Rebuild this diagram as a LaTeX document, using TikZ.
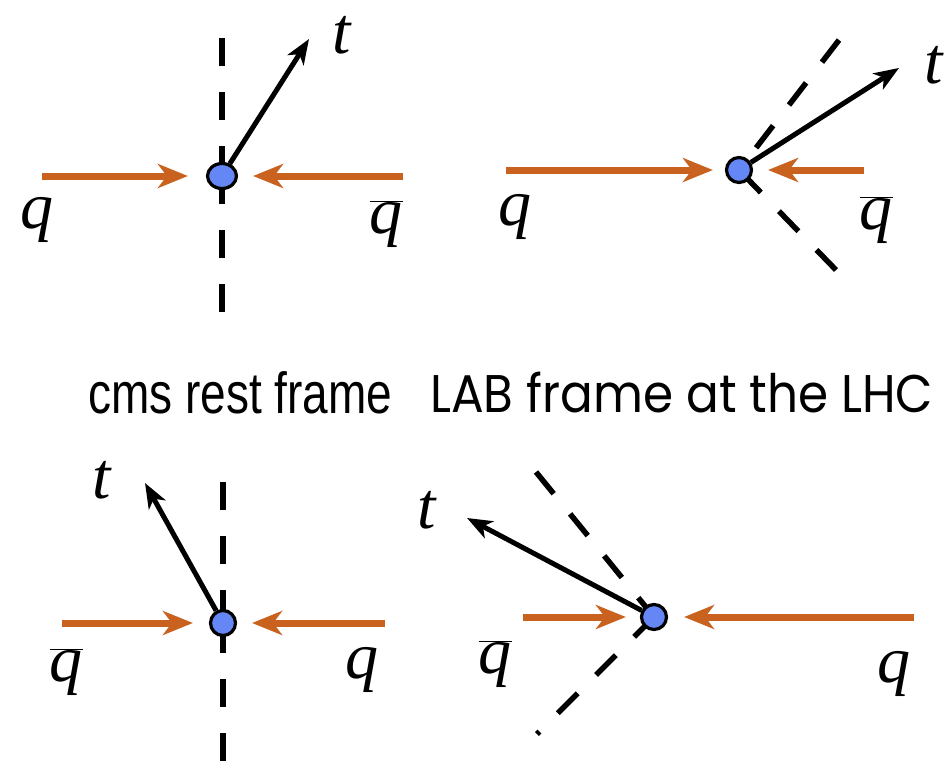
\documentclass[tikz,border=0pt]{standalone}
\usepackage{fontspec}
\usepackage{graphicx}
\usetikzlibrary{arrows.meta,shapes.geometric}
\newfontfamily\lblfont{Liberation Serif}
\newfontfamily\capfont{Liberation Sans}
\newfontfamily\labfont{Poppins}
\definecolor{qorange}{RGB}{200,98,30}
\definecolor{vblue}{RGB}{100,135,245}
\newcommand{\qbr}{$\overline{\hbox{q}}$}
\pgfdeclarelayer{bg}
\pgfsetlayers{bg,main}
\begin{document}
\begin{tikzpicture}[x=1pt,y=-1pt,
  vtx/.style={circle, draw=black, line width=3.2pt, fill=vblue, minimum size=25pt, inner sep=0pt},
  vtxe/.style={ellipse, draw=black, line width=3.2pt, fill=vblue, minimum width=29pt, minimum height=25pt, inner sep=0pt},
  dashax/.style={line width=5.5pt, dash pattern=on 28pt off 26pt},
  beam/.style={draw=qorange, line width=7pt, -{Stealth[length=30pt,width=24pt,inset=9pt]}},
  tarr/.style={draw=black, line width=5pt, -{Stealth[length=25pt,width=19pt,inset=7pt]}},
  lbl/.style={inner sep=0pt, font={\fontsize{66}{70}\lblfont\itshape}}]
\useasboundingbox (0,0) rectangle (952,761);

% vertices
\node[vtxe] (v1) at (222,176) {};
\node[vtx] (v2) at (739,170) {};
\node[vtx] (v3) at (223,623) {};
\node[vtx] (v4) at (654,617) {};

% labels
\node[lbl] (t1) at (342,35) {t};
\node[lbl] (q1) at (37,220) {q};
\node[lbl] (qb1) at (386,224) {\qbr};
\node[lbl] (t2) at (934,65) {t};
\node[lbl] (q2) at (515,217) {q};
\node[lbl] (qb2) at (876,220) {\qbr};
\node[lbl] (t3) at (102,480) {t};
\node[lbl] (qb3) at (66,672) {\qbr};
\node[lbl] (q3) at (362,670) {q};
\node[lbl] (t4) at (427,510) {t};
\node[lbl] (qb4) at (495,664) {\qbr};
\node[lbl] (q4) at (894,674) {q};

\node[anchor=base west, inner sep=0pt] (cms) at (88,413)
  {\resizebox{304pt}{\height}{\fontsize{58}{60}\capfont cms rest frame}};
\node[anchor=base west, inner sep=0pt] (lab) at (430,412)
  {\resizebox{503pt}{\height}{\fontsize{53}{56}\labfont LAB frame at the LHC}};

% free ends
\coordinate (a1) at (42,176);  \coordinate (b1) at (403,176);
\coordinate (tt1) at (309,39); \coordinate (du1) at (222,38);  \coordinate (dd1) at (222,312);
\coordinate (a2) at (506,170); \coordinate (b2) at (864,170);
\coordinate (tt2) at (899,68); \coordinate (du2) at (839,40);  \coordinate (dd2) at (836,270);
\coordinate (a3) at (62,623);  \coordinate (b3) at (385,623);
\coordinate (tt3) at (145,483); \coordinate (du3) at (223,482); \coordinate (dd3) at (223,761);
\coordinate (a4) at (523,617); \coordinate (b4) at (914,617);
\coordinate (tt4) at (467,518); \coordinate (du4) at (536,472); \coordinate (dd4) at (537,734);

\begin{pgfonlayer}{bg}
  \fill[white] (0,0) rectangle (952,761);
  % dashed axes
  \draw[dashax] (du1) -- (v1.center);
  \draw[dashax] (dd1) -- (v1.center);
  \draw[dashax] (du2) -- (v2.center);
  \draw[dashax] (dd2) -- (v2.center);
  \draw[dashax] (du3) -- (v3.center);
  \draw[dashax] (dd3) -- (v3.center);
  \draw[dashax] (du4) -- (v4.center);
  \draw[dashax] (v4.center) -- (dd4);
  % incoming beams
  \draw[beam, shorten >=18pt] (a1) -- (v1);
  \draw[beam, shorten >=15pt] (b1) -- (v1);
  \draw[beam, shorten >=12pt] (a2) -- (v2);
  \draw[beam, shorten >=15pt] (b2) -- (v2);
  \draw[beam, shorten >=16pt] (a3) -- (v3);
  \draw[beam, shorten >=15pt] (b3) -- (v3);
  \draw[beam, shorten >=14pt] (a4) -- (v4);
  \draw[beam, shorten >=16pt] (b4) -- (v4);
  % top quarks
  \draw[tarr] (v1) -- (tt1);
  \draw[tarr] (v2) -- (tt2);
  \draw[tarr] (v3) -- (tt3);
  \draw[tarr] (v4) -- (tt4);
\end{pgfonlayer}
\end{tikzpicture}
\end{document}
